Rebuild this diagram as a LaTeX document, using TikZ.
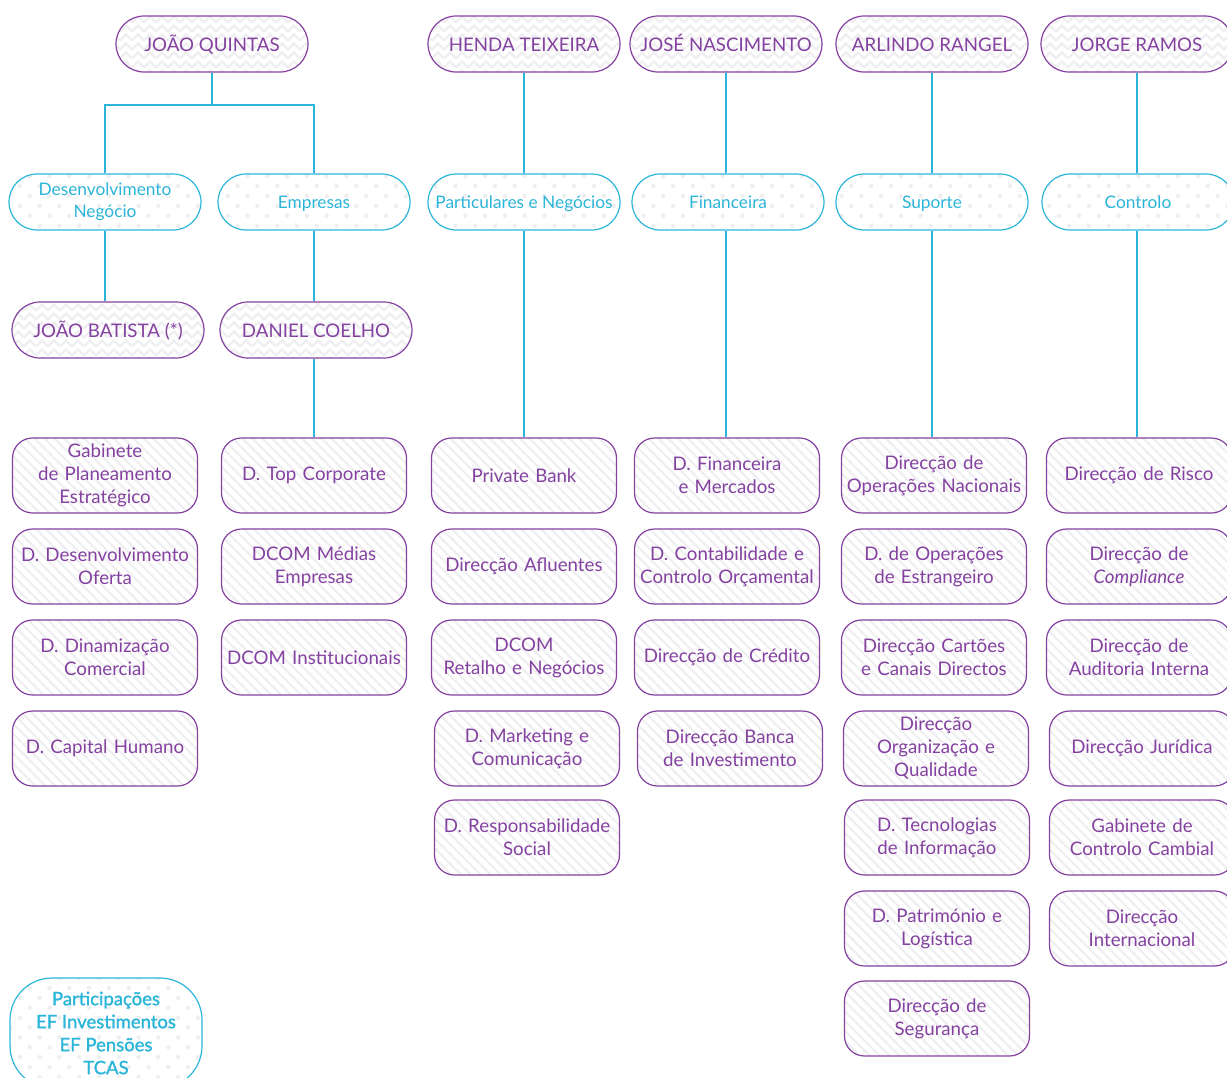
\documentclass[tikz,border=0pt]{standalone}
\usepackage{fontspec}
\setmainfont{Lato}
\newfontfamily\medfont[FakeBold=1.4]{Lato}
\usetikzlibrary{patterns,patterns.meta}
\definecolor{purp}{HTML}{8441A0}
\definecolor{cyanc}{HTML}{2BB5D8}
\definecolor{patc}{HTML}{EFEFF1}
\pgfdeclarepatternformonly{myzigzag}{\pgfpoint{-1pt}{-1pt}}{\pgfpoint{13pt}{10pt}}{\pgfpoint{12pt}{9pt}}{%
  \pgfsetlinewidth{2.4pt}%
  \pgfpathmoveto{\pgfpoint{0pt}{1.5pt}}%
  \pgfpathlineto{\pgfpoint{6pt}{7.5pt}}%
  \pgfpathlineto{\pgfpoint{12pt}{1.5pt}}%
  \pgfusepath{stroke}}
\begin{document}
\begin{tikzpicture}[x=1pt,y=-1pt,
  toprole/.style={draw=purp, line width=1.2pt, rounded corners=28pt, minimum width=192pt, minimum height=56pt,
    pattern=myzigzag, pattern color=patc, text=purp, font=\fontsize{18.7}{22}\selectfont, inner sep=2pt,
    text height=15pt, text depth=1pt},
  area/.style={draw=cyanc, line width=1.2pt, rounded corners=28pt, minimum width=192pt, minimum height=56pt,
    pattern={Dots[distance=14pt, radius=2.3pt, angle=45]}, pattern color=patc, text=cyanc,
    font=\fontsize{17.3}{22}\selectfont, align=center, inner sep=2pt},
  oneline/.style={text height=14.5pt, text depth=1.5pt},
  dept/.style={draw=purp, line width=1.2pt, rounded corners=20pt, minimum width=185pt, minimum height=75pt,
    text width=183pt, align=center, inner sep=1pt,
    pattern={Lines[angle=-45, distance=7pt, line width=2.2pt]}, pattern color=patc, text=purp,
    font=\fontsize{18.7}{23}\selectfont},
  conn/.style={draw=cyanc, line width=1.2pt}]
\useasboundingbox (0,0) rectangle (1227,1077);
\clip (0,0) rectangle (1227,1077);
% top row
\node[toprole] (jq) at (212,44) {JOÃO QUINTAS};
\node[toprole] (ht) at (524,44) {HENDA TEIXEIRA};
\node[toprole] (jn) at (726,44) {JOSÉ NASCIMENTO};
\node[toprole] (ar) at (932,44) {ARLINDO RANGEL};
\node[toprole] (jr) at (1137,44) {JORGE RAMOS};
% area row
\node[area] (dn) at (105,202) {Desenvolvimento\\Negócio};
\node[area,oneline] (em) at (314,202) {Empresas};
\node[area,oneline] (pn) at (524,202) {Particulares e Negócios};
\node[area,oneline] (fi) at (728,202) {Financeira};
\node[area,oneline] (su) at (932,202) {Suporte};
\node[area,oneline] (co) at (1138,202) {Controlo};
% third row
\node[toprole] (jb) at (108,330) {JOÃO BATISTA (*)};
\node[toprole] (dc) at (316,330) {DANIEL COELHO};
% column 1
\node[dept] (c1a) at (105,475.5) {Gabinete\\de Planeamento\\Estratégico};
\node[dept] (c1b) at (105,566.5) {D. Desenvolvimento\\Oferta};
\node[dept] (c1c) at (105,657.5) {D. Dinamização\\Comercial};
\node[dept] (c1d) at (105,748.5) {D. Capital Humano};
% column 2
\node[dept] (c2a) at (314,475.5) {D. Top Corporate};
\node[dept] (c2b) at (314,566.5) {DCOM Médias\\Empresas};
\node[dept] (c2c) at (314,657.5) {DCOM Institucionais};
% column 3
\node[dept] (c3a) at (524,475.5) {Private Bank};
\node[dept] (c3b) at (524,566.5) {Direcção Afluentes};
\node[dept] (c3c) at (524,657.5) {DCOM\\Retalho e Negócios};
\node[dept] (c3d) at (527,748.5) {D. Marketing e\\Comunicação};
\node[dept] (c3e) at (527,837.5) {D. Responsabilidade\\Social};
% column 4
\node[dept] (c4a) at (727,475.5) {D. Financeira\\e Mercados};
\node[dept] (c4b) at (727,566.5) {D. Contabilidade e\\Controlo Orçamental};
\node[dept] (c4c) at (727,657.5) {Direcção de Crédito};
\node[dept] (c4d) at (730,748.5) {Direcção Banca\\de Investimento};
% column 5
\node[dept] (c5a) at (934,475.5) {Direcção de\\Operações Nacionais};
\node[dept] (c5b) at (934,566.5) {D. de Operações\\de Estrangeiro};
\node[dept] (c5c) at (934,657.5) {Direcção Cartões\\e Canais Directos};
\node[dept] (c5d) at (936,748.5) {Direcção\\Organização e\\Qualidade};
\node[dept] (c5e) at (937,837.5) {D. Tecnologias\\de Informação};
\node[dept] (c5f) at (937,928.5) {D. Património e\\Logística};
\node[dept] (c5g) at (937,1018.5) {Direcção de\\Segurança};
% column 6
\node[dept] (c6a) at (1139,475.5) {Direcção de Risco};
\node[dept] (c6b) at (1139,566.5) {Direcção de\\\textit{Compliance}};
\node[dept] (c6c) at (1139,657.5) {Direcção de\\Auditoria Interna};
\node[dept] (c6d) at (1142,748.5) {Direcção Jurídica};
\node[dept] (c6e) at (1142,837.5) {Gabinete de\\Controlo Cambial};
\node[dept] (c6f) at (1142,928.5) {Direcção\\Internacional};
% participations
\node[area, rounded corners=42pt, minimum height=110pt, font=\medfont\fontsize{18.5}{23}\selectfont] (pa) at (106,1033)
  {Participações\\EF Investimentos\\EF Pensões\\TCAS};
% connectors
\coordinate (jqm) at (212,105);
\draw[conn] (jq.south) -- (jqm);
\draw[conn] (dn.north) |- (jqm) -| (em.north);
\draw[conn] (dn.south) -- (dn.south |- jb.north);
\draw[conn] (jb.south -| dn.south) -- (jb.south -| dn.south |- c1a.north);
\draw[conn] (dc.north -| em.south) -- (em.south);
\draw[conn] (dc.south -| em.south) -- (em.south |- c2a.north);
\draw[conn] (ht.south) -- (ht.south |- pn.north);
\draw[conn] (pn.south) -- (pn.south |- c3a.north);
\draw[conn] (jn.south) -- (jn.south |- fi.north);
\draw[conn] (fi.south -| jn.south) -- (jn.south |- c4a.north);
\draw[conn] (ar.south) -- (ar.south |- su.north);
\draw[conn] (su.south) -- (su.south |- c5a.north);
\draw[conn] (jr.south) -- (jr.south |- co.north);
\draw[conn] (co.south -| jr.south) -- (jr.south |- c6a.north);
\end{tikzpicture}
\end{document}
